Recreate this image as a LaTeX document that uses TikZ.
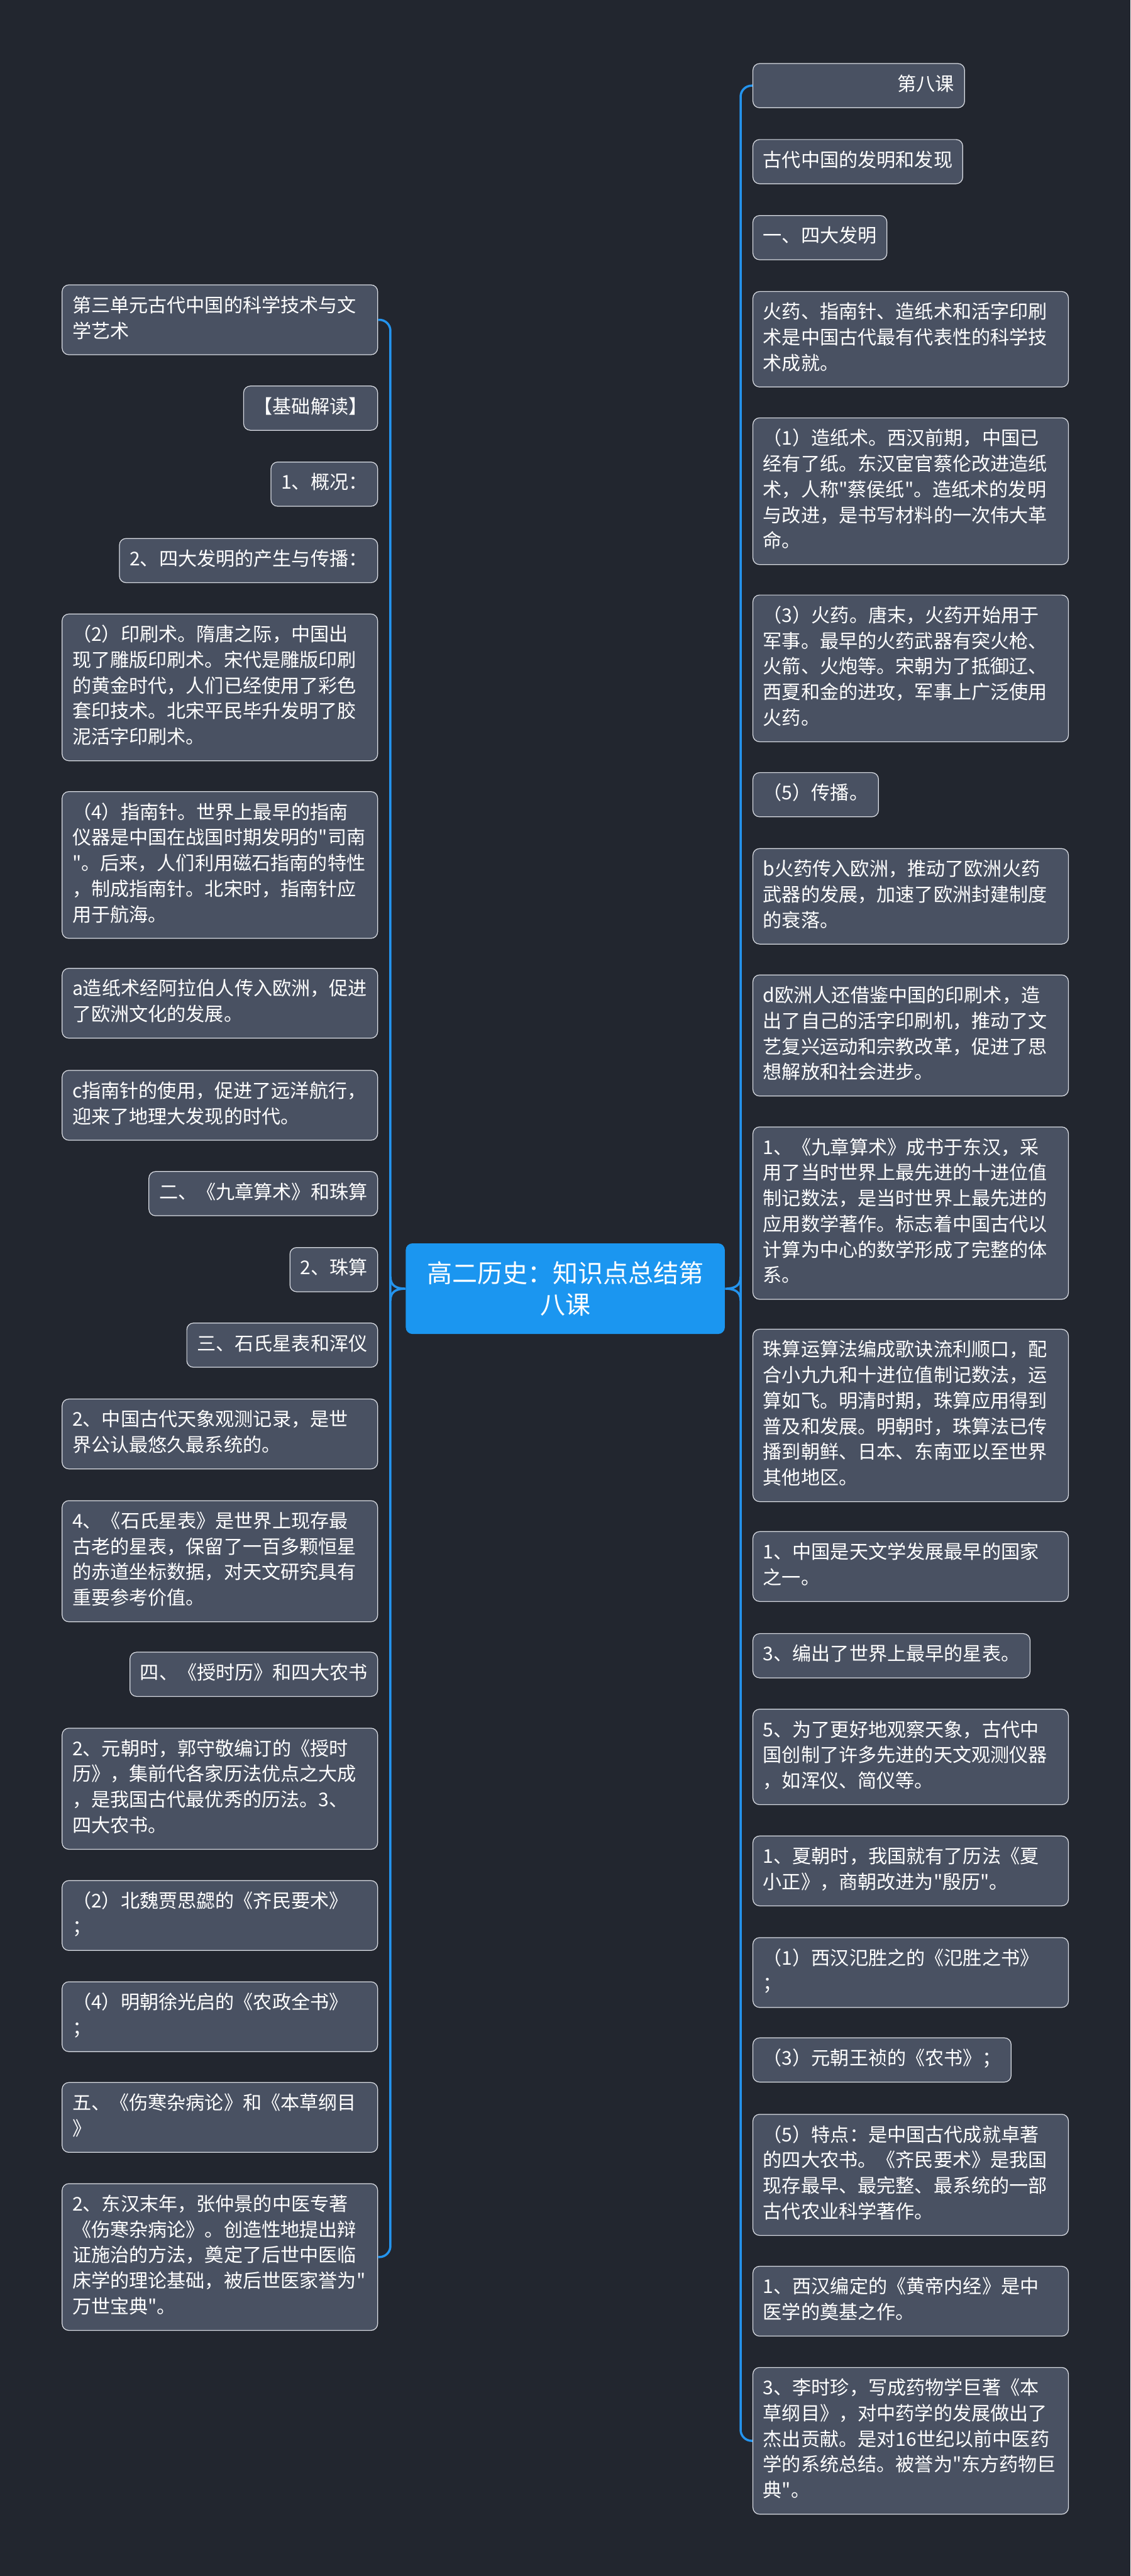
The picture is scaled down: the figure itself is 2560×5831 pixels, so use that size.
\documentclass[tikz,border=0pt]{standalone}
\usepackage{fontspec}
\newfontfamily\cjkfont{Noto Sans CJK SC}
\definecolor{bgdark}{HTML}{22262F}
\definecolor{boxfill}{HTML}{495162}
\definecolor{boxline}{HTML}{D9DCE3}
\definecolor{rootblue}{HTML}{1B96F0}
\definecolor{linkblue}{HTML}{2494EE}
\newcommand\leaffont{\cjkfont\fontsize{12.2pt}{16.5pt}\selectfont}
\newcommand\rootfont{\cjkfont\fontsize{16.2pt}{20.5pt}\selectfont}
\begin{document}
\begin{tikzpicture}[x=0.01cm,y=-0.01cm]
		\tikzstyle{box}=[draw=boxline,fill=boxfill,rounded corners=0.15cm,line width=0.5pt,text=white,inner xsep=0.23cm,inner ysep=0.21cm,font=\leaffont,execute at begin node=\strut,execute at end node=\strut]
		\tikzstyle{wide}=[box,text width=6.68cm,align=left]
		\tikzstyle{root}=[fill=rootblue,rounded corners=0.15cm,text=white,font=\rootfont,minimum width=7.22cm,minimum height=2.05cm,text width=6.62cm,align=center]
		\tikzstyle{link}=[draw=linkblue,line width=0.05cm,rounded corners=0.25cm]

		\fill[bgdark] (0,0) rectangle (2560,5831);

		\node[root](root) at (1280,2917){高二历史：知识点总结第\\八课};

		\node[wide,anchor=north east](l1) at (856,644){第三单元古代中国的科学技术与文\\学艺术};
		\node[box,anchor=north east](l2) at (856,873){【基础解读】};
		\node[box,anchor=north east](l3) at (856,1045){1、概况：};
		\node[box,anchor=north east](l4) at (856,1218){2、四大发明的产生与传播：};
		\node[wide,anchor=north east](l5) at (856,1389){（2）印刷术。隋唐之际，中国出\\现了雕版印刷术。宋代是雕版印刷\\的黄金时代，人们已经使用了彩色\\套印技术。北宋平民毕升发明了胶\\泥活字印刷术。};
		\node[wide,anchor=north east](l6) at (856,1791){（4）指南针。世界上最早的指南\\仪器是中国在战国时期发明的"司南\\"。后来，人们利用磁石指南的特性\\，制成指南针。北宋时，指南针应\\用于航海。};
		\node[wide,anchor=north east](l7) at (856,2191){a造纸术经阿拉伯人传入欧洲，促进\\了欧洲文化的发展。};
		\node[wide,anchor=north east](l8) at (856,2422){c指南针的使用，促进了远洋航行，\\迎来了地理大发现的时代。};
		\node[box,anchor=north east](l9) at (856,2651){二、《九章算术》和珠算};
		\node[box,anchor=north east](l10) at (856,2823){2、珠算};
		\node[box,anchor=north east](l11) at (856,2994){三、石氏星表和浑仪};
		\node[wide,anchor=north east](l12) at (856,3166){2、中国古代天象观测记录，是世\\界公认最悠久最系统的。};
		\node[wide,anchor=north east](l13) at (856,3396){4、《石氏星表》是世界上现存最\\古老的星表，保留了一百多颗恒星\\的赤道坐标数据，对天文研究具有\\重要参考价值。};
		\node[box,anchor=north east](l14) at (856,3739){四、《授时历》和四大农书};
		\node[wide,anchor=north east](l15) at (856,3911){2、元朝时，郭守敬编订的《授时\\历》，集前代各家历法优点之大成\\，是我国古代最优秀的历法。3、\\四大农书。};
		\node[wide,anchor=north east](l16) at (856,4256){（2）北魏贾思勰的《齐民要术》\\；};
		\node[wide,anchor=north east](l17) at (856,4485){（4）明朝徐光启的《农政全书》\\；};
		\node[wide,anchor=north east](l18) at (856,4713){五、《伤寒杂病论》和《本草纲目\\》};
		\node[wide,anchor=north east](l19) at (856,4942){2、东汉末年，张仲景的中医专著\\《伤寒杂病论》。创造性地提出辩\\证施治的方法，奠定了后世中医临\\床学的理论基础，被后世医家誉为"\\万世宝典"。};

		\node[box,text width=4.33cm,align=right,anchor=north west](r1) at (1704,143){第八课};
		\node[box,anchor=north west](r2) at (1704,315){古代中国的发明和发现};
		\node[box,anchor=north west](r3) at (1704,487){一、四大发明};
		\node[wide,anchor=north west](r4) at (1704,659){火药、指南针、造纸术和活字印刷\\术是中国古代最有代表性的科学技\\术成就。};
		\node[wide,anchor=north west](r5) at (1704,945){（1）造纸术。西汉前期，中国已\\经有了纸。东汉宦官蔡伦改进造纸\\术，人称"蔡侯纸"。造纸术的发明\\与改进，是书写材料的一次伟大革\\命。};
		\node[wide,anchor=north west](r6) at (1704,1346){（3）火药。唐末，火药开始用于\\军事。最早的火药武器有突火枪、\\火箭、火炮等。宋朝为了抵御辽、\\西夏和金的进攻，军事上广泛使用\\火药。};
		\node[box,anchor=north west](r7) at (1704,1748){（5）传播。};
		\node[wide,anchor=north west](r8) at (1704,1920){b火药传入欧洲，推动了欧洲火药\\武器的发展，加速了欧洲封建制度\\的衰落。};
		\node[wide,anchor=north west](r9) at (1704,2206){d欧洲人还借鉴中国的印刷术，造\\出了自己的活字印刷机，推动了文\\艺复兴运动和宗教改革，促进了思\\想解放和社会进步。};
		\node[wide,anchor=north west](r10) at (1704,2550){1、《九章算术》成书于东汉，采\\用了当时世界上最先进的十进位值\\制记数法，是当时世界上最先进的\\应用数学著作。标志着中国古代以\\计算为中心的数学形成了完整的体\\系。};
		\node[wide,anchor=north west](r11) at (1704,3008){珠算运算法编成歌诀流利顺口，配\\合小九九和十进位值制记数法，运\\算如飞。明清时期，珠算应用得到\\普及和发展。明朝时，珠算法已传\\播到朝鲜、日本、东南亚以至世界\\其他地区。};
		\node[wide,anchor=north west](r12) at (1704,3466){1、中国是天文学发展最早的国家\\之一。};
		\node[box,anchor=north west](r13) at (1704,3697){3、编出了世界上最早的星表。};
		\node[wide,anchor=north west](r14) at (1704,3868){5、为了更好地观察天象，古代中\\国创制了许多先进的天文观测仪器\\，如浑仪、简仪等。};
		\node[wide,anchor=north west](r15) at (1704,4155){1、夏朝时，我国就有了历法《夏\\小正》，商朝改进为"殷历"。};
		\node[wide,anchor=north west](r16) at (1704,4385){（1）西汉氾胜之的《氾胜之书》\\；};
		\node[box,anchor=north west](r17) at (1704,4612){（3）元朝王祯的《农书》；};
		\node[wide,anchor=north west](r18) at (1704,4785){（5）特点：是中国古代成就卓著\\的四大农书。《齐民要术》是我国\\现存最早、最完整、最系统的一部\\古代农业科学著作。};
		\node[wide,anchor=north west](r19) at (1704,5129){1、西汉编定的《黄帝内经》是中\\医学的奠基之作。};
		\node[wide,anchor=north west](r20) at (1704,5358){3、李时珍，写成药物学巨著《本\\草纲目》，对中药学的发展做出了\\杰出贡献。是对16世纪以前中医药\\学的系统总结。被誉为"东方药物巨\\典"。};

		\coordinate (lt) at (884,2917);
		\coordinate (lta) at (884,2890);
		\coordinate (ltb) at (884,2944);
		\coordinate (rt) at (1677,2917);
		\coordinate (rta) at (1677,2890);
		\coordinate (rtb) at (1677,2944);

		\draw[link] (l1.east) -| (lt) |- (l19.east);
		\draw[link,rounded corners=0] (lta) .. controls (884,2910) and (897,2917) .. (root.west) .. controls (897,2917) and (884,2924) .. (ltb);

		\draw[link] (r1.west) -| (rt) |- (r20.west);
		\draw[link,rounded corners=0] (rta) .. controls (1677,2910) and (1664,2917) .. (root.east) .. controls (1664,2917) and (1677,2924) .. (rtb);

\end{tikzpicture}
\end{document}
